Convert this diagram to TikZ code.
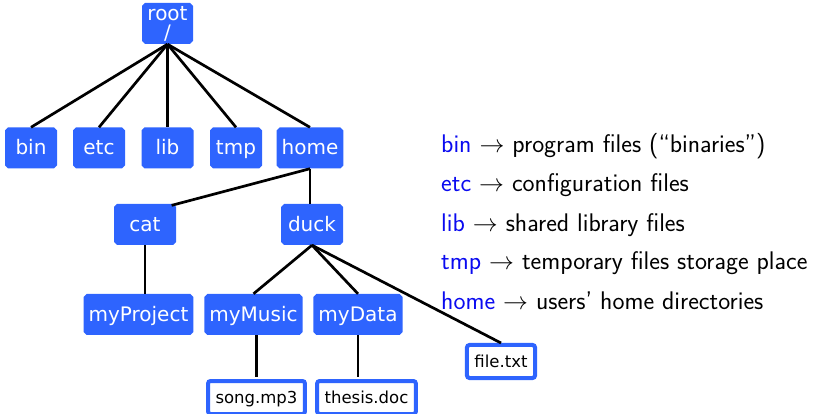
\documentclass[tikz,border=0pt]{standalone}
\usepackage{fontspec}
\newfontfamily\dejavu{DejaVu Sans}
\usetikzlibrary{shapes.misc}
\definecolor{boxblue}{RGB}{46,100,254}
\definecolor{legblue}{RGB}{10,10,240}
\tikzset{
  dirbase/.style={chamfered rectangle, chamfered rectangle xsep=1.5pt, chamfered rectangle ysep=1.5pt,
    fill=boxblue, text=white, inner xsep=3.5pt, inner ysep=1pt, minimum height=41pt,
    font=\dejavu\fontsize{20}{19}\selectfont, align=center},
  dir/.style={dirbase, text height=19pt, text depth=5pt},
  filebox/.style={draw=boxblue, line width=4pt, rounded corners=2.5pt, fill=white, text=black,
    inner xsep=7.5pt, inner ysep=1pt, minimum height=33pt, text height=15pt, text depth=4pt,
    font=\dejavu\fontsize{16.5}{18}\selectfont},
  edge/.style={line width=2.7pt, black},
  legend/.style={anchor=base west, inner sep=0pt, font=\sffamily\fontsize{25.5}{28}\selectfont},
}
\begin{document}
\begin{tikzpicture}[x=1pt,y=-1pt]
\useasboundingbox (0,0) rectangle (820,414);
% directories
\node[dirbase, minimum width=51pt] (root) at (167.5,23.5) {root\\/};
\node[dir, minimum width=52pt] (bin) at (31,148) {bin};
\node[dir, minimum width=52pt] (etc) at (99,148) {etc};
\node[dir, minimum width=52pt] (lib) at (167.5,148) {lib};
\node[dir, minimum width=52pt] (tmp) at (236,148) {tmp};
\node[dir, minimum width=62pt] (home) at (310,148) {home};
\node[dir, minimum width=62pt] (cat) at (145,224.5) {cat};
\node[dir, minimum width=62pt] (duck) at (312,224.5) {duck};
\node[dir] (myProject) at (138.5,314.5) {myProject};
\node[dir] (myMusic) at (253.5,314.5) {myMusic};
\node[dir] (myData) at (358,314.5) {myData};
% files
\node[filebox] (song) at (256.5,397.5) {song.mp3};
\node[filebox] (thesis) at (366.5,397.5) {thesis.doc};
\node[filebox] (file) at (501,361.5) {file.txt};
% edges
\foreach \c in {bin,etc,lib,tmp,home} \draw[edge] (root.south) -- (\c.north);
\draw[edge] (home.south) -- ([xshift=-3pt]cat.north east);
\draw[edge] (home.south) -- (home.south |- duck.north);
\draw[edge] (cat.south) -- (cat.south |- myProject.north);
\draw[edge] (duck.south) -- (myMusic.north);
\draw[edge] (duck.south) -- (myData.north);
\draw[edge] (duck.south) -- (file.north);
\draw[edge] (myMusic.south -| song.north) -- ([yshift=2pt]song.north);
\draw[edge] (myData.south) -- ([yshift=2pt]myData.south |- thesis.north);
% legend
\node[legend] (l1) at (441,153) {\textcolor{legblue}{bin} $\rightarrow$ program files (``binaries'')};
\node[legend] (l2) at (441,192) {\textcolor{legblue}{etc} $\rightarrow$ configuration files};
\node[legend] (l3) at (441,231.5) {\textcolor{legblue}{lib} $\rightarrow$ shared library files};
\node[legend] (l4) at (441,270) {\textcolor{legblue}{tmp} $\rightarrow$ temporary files storage place};
\node[legend] (l5) at (441,309.5) {\textcolor{legblue}{home} $\rightarrow$ users' home directories};
\end{tikzpicture}
\end{document}
